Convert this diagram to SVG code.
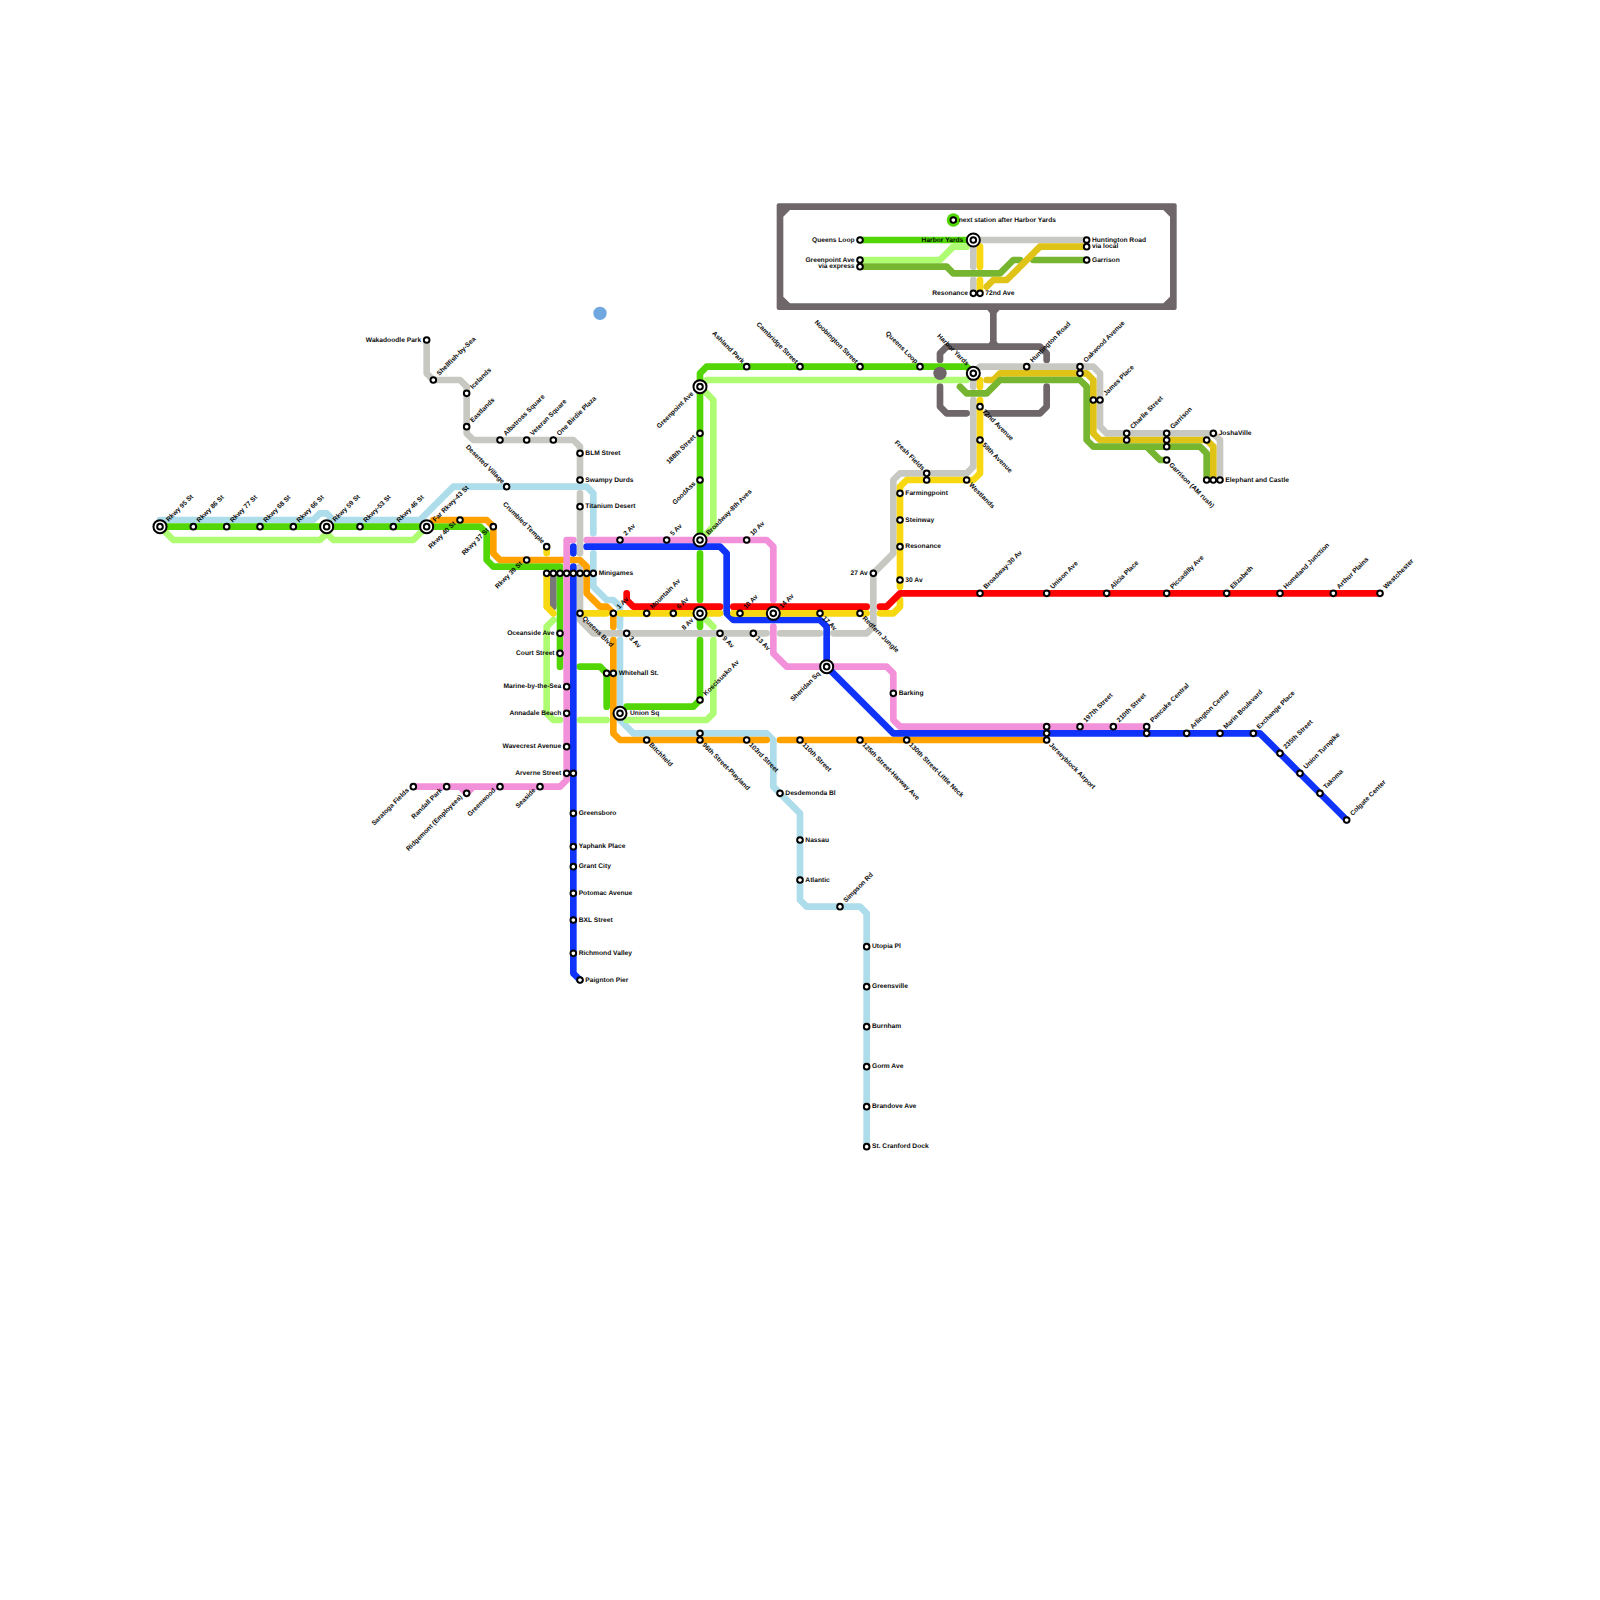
<svg xmlns="http://www.w3.org/2000/svg" width="1600" height="1600" viewBox="0 0 1600 1600">
<style>
.l{fill:none;stroke-width:1;stroke-linecap:round;stroke-linejoin:round}
.lb{stroke:#addcea}.gr{stroke:#52d606}.lg{stroke:#aefc72}.or{stroke:#ffa200}.pk{stroke:#f291d9}.bl{stroke:#0f33f8}.rd{stroke:#fc0404}.ye{stroke:#f8d810}.dy{stroke:#dfc317}.ol{stroke:#76b52f}.gy{stroke:#c8c8c2}.dg{stroke:#6f6669}.mg{stroke:#787878}
text{font-family:"Liberation Sans",Arial,sans-serif;font-weight:700;font-size:1px;fill:#000;text-rendering:geometricPrecision;opacity:.95}
.e{text-anchor:end}
</style>
<defs>
<g id="st"><circle r=".42" fill="#fff" stroke="#000" stroke-width=".3"/></g>
<g id="ix"><circle r=".98" fill="#fff" stroke="#000" stroke-width=".3"/><circle r=".42" fill="#fff" stroke="#000" stroke-width=".3"/></g>
</defs>
<g transform="scale(6.66667)">
<g id="legend-frame">
<rect x="116.5" y="30.5" width="60" height="16" rx=".3" fill="#6f6669"/>
<polygon points="118.5,31.5 174.5,31.5 175.5,32.5 175.5,44.5 174.5,45.5 118.5,45.5 117.5,44.5 117.5,32.5" fill="#fff"/>
<polygon points="148,46.4 150,46.4 149.5,47 148.5,47" fill="#6f6669"/>
<polygon points="148,52 150,52 149.5,51.2 148.5,51.2" fill="#6f6669"/>
<path class="l dg" d="M149 46.5V51M141 54V53L142 52H156L157 53V54M141 58V61L142 62H145M148 62H156L157 61V58"/>
<circle cx="143" cy="33" r="1" fill="#52d606"/>
<circle cx="90" cy="47" r="1" fill="#6fa8e0"/>
</g>
<g id="connectors">
<path class="l lb" d="M24 78H47L48 77H49L50 78H63L68 73H88L89 74V80M89 83V88L91 90H92L93 91V94M93 96V108L95 110H115L116 111V118L120 122V135L121 136H129L130 137V172"/>
<path class="l lg" d="M24 79L26 81H48L49 80L50 81H62L64 79M83 93L82 94V107L83 108H84M87 108H91M94 108H106L107 107V96M105 92L107 94M105 58L106 57H145L146 56M105 58L107 60V79L105 81"/>
<path class="l gy" d="M64 51V56L65 57H69L70 58V65L71 66H86L87 67V72M87 74V83M87 85V93L89 95H115M117 95H123M125 95H130L131 94V86L134 83V72L135 71H145L146 70V60M146 57V58M146 56L147 55H164L165 56V64L166 65H182L183 66V72"/>
<path class="l mg" d="M83 86V91"/>
<path class="l gr" d="M24 79H72L73 80V84L74 85H84V100M87 100H90L91 101V106M94 106H104L105 105V96M105 92V94M105 83V90M105 81V56L106 55H145L146 56"/>
<path class="l or" d="M65 78H73L74 79V83L75 84H87L88 85V89L90 91H91L92 92V94M92 96V110L93 111H115M117 111H157"/>
<path class="l pk" d="M86 81H85V117L84 118H62M69 118L70 119L71 118M88 81H115L116 82V90M116 94V98L118 100H133L134 101V108L135 109H172"/>
<path class="l bl" d="M86 82V83M86 85V146L87 147M88 82H108L109 83V92L110 93H123L124 94V100L134 110H189L202 123"/>
<path class="l ye" d="M82 82V83M82 86V91L83 92M87 92H91M93 92H108M110 92H130M132 92H134L135 91V90M135 88V73L136 72H146L147 71V60M147 57V58"/>
<path class="l rd" d="M94 89V90L95 91H108M110 91H130M132 91H133L135 89H207"/>
<path class="l dy" d="M148 57H149L150 56H163L164 57V65L165 66H181L182 67V72"/>
<path class="l ol" d="M144 58L145 59H148L150 57H162L163 58V66L164 67H180L181 68V72M172 67L174 69H175"/>
<path class="l gr" d="M129 36H146"/>
<path class="l lg" d="M129 39H141L143 37H145"/>
<path class="l ol" d="M129 40H142L143 41H150L152 39H153M155 39H163"/>
<path class="l gy" d="M146 36H163M146 36V40M146 42V44"/>
<path class="l ye" d="M147 37V40M147 42V44"/>
<path class="l dy" d="M163 37H156L151 42H149L148 43"/>
</g>
<circle id="frame-dot" cx="141" cy="56" r="1" fill="#6f6669"/>
<g id="n-rkwy95"><use href="#ix" x="24" y="79"/><text transform="translate(25.3 78.3) rotate(-45)">Rkwy 95 St</text></g>
<g id="n-rkwy86"><use href="#st" x="29" y="79"/><text transform="translate(29.9 78.4) rotate(-45)">Rkwy 86 St</text></g>
<g id="n-rkwy77"><use href="#st" x="34" y="79"/><text transform="translate(34.9 78.4) rotate(-45)">Rkwy 77 St</text></g>
<g id="n-rkwy68"><use href="#st" x="39" y="79"/><text transform="translate(39.9 78.4) rotate(-45)">Rkwy 68 St</text></g>
<g id="n-rkwy66"><use href="#st" x="44" y="79"/><text transform="translate(44.9 78.4) rotate(-45)">Rkwy 66 St</text></g>
<g id="n-rkwy59"><use href="#ix" x="49" y="79"/><text transform="translate(50.3 78.3) rotate(-45)">Rkwy 59 St</text></g>
<g id="n-rkwy53"><use href="#st" x="54" y="79"/><text transform="translate(54.9 78.4) rotate(-45)">Rkwy-53 St</text></g>
<g id="n-rkwy46"><use href="#st" x="59" y="79"/><text transform="translate(59.9 78.4) rotate(-45)">Rkwy 46 St</text></g>
<g id="n-far43"><use href="#ix" x="64" y="79"/><text transform="translate(65.3 78.3) rotate(-45)">Far Rkwy-43 St</text></g>
<g id="n-rkwy40"><use href="#st" x="69" y="78"/><text class="e" transform="translate(68.4 78.6) rotate(-45)">Rkwy 40 St</text></g>
<g id="n-rkwy37"><use href="#st" x="74" y="79"/><text class="e" transform="translate(73.4 79.6) rotate(-45)">Rkwy 37 St</text></g>
<g id="n-rkwy39"><use href="#st" x="79" y="84"/><text class="e" transform="translate(78.4 84.6) rotate(-45)">Rkwy 39 St</text></g>
<g id="n-wakadoodle"><use href="#st" x="64" y="51"/><text class="e" x="63.2" y="51.28">Wakadoodle Park</text></g>
<g id="n-shellfish"><use href="#st" x="65" y="57"/><text transform="translate(65.9 56.4) rotate(-45)">Shellfish-by-Sea</text></g>
<g id="n-icelands"><use href="#st" x="70" y="59"/><text transform="translate(70.9 58.4) rotate(-45)">Icelands</text></g>
<g id="n-eastlands"><use href="#st" x="70" y="64"/><text transform="translate(70.9 63.4) rotate(-45)">Eastlands</text></g>
<g id="n-albatross"><use href="#st" x="75" y="66"/><text transform="translate(75.9 65.4) rotate(-45)">Albatross Square</text></g>
<g id="n-veteran"><use href="#st" x="79" y="66"/><text transform="translate(79.9 65.4) rotate(-45)">Veteran Square</text></g>
<g id="n-birdie"><use href="#st" x="83" y="66"/><text transform="translate(83.9 65.4) rotate(-45)">One Birdie Plaza</text></g>
<g id="n-blm"><use href="#st" x="87" y="68"/><text x="87.8" y="68.28">BLM Street</text></g>
<g id="n-swampy"><use href="#st" x="87" y="72"/><text x="87.8" y="72.28">Swampy Durds</text></g>
<g id="n-titanium"><use href="#st" x="87" y="76"/><text x="87.8" y="76.28">Titanium Desert</text></g>
<g id="n-deserted"><use href="#st" x="76" y="73"/><text class="e" transform="translate(75.3 72.6) rotate(45)">Deserted Village</text></g>
<g id="n-crumbled"><use href="#st" x="82" y="82"/><text class="e" transform="translate(81.3 81.6) rotate(45)">Crumbled Temple</text></g>
<g id="n-r1"><use href="#st" x="82" y="86"/></g>
<g id="n-r2"><use href="#st" x="83" y="86"/></g>
<g id="n-r3"><use href="#st" x="84" y="86"/></g>
<g id="n-r4"><use href="#st" x="85" y="86"/></g>
<g id="n-r5"><use href="#st" x="86" y="86"/></g>
<g id="n-r6"><use href="#st" x="87" y="86"/></g>
<g id="n-r7"><use href="#st" x="88" y="86"/></g>
<g id="n-minigames"><use href="#st" x="89" y="86"/><text x="89.8" y="86.28">Minigames</text></g>
<g id="n-queensblvd"><use href="#st" x="87" y="92"/><text transform="translate(87.3 92.8) rotate(45)">Queens Blvd</text></g>
<g id="n-1av"><use href="#st" x="92" y="92"/><text transform="translate(92.9 91.4) rotate(-45)">1 Av</text></g>
<g id="n-mountain"><use href="#st" x="97" y="92"/><text transform="translate(97.9 91.4) rotate(-45)">Mountain Av</text></g>
<g id="n-6av"><use href="#st" x="101" y="92"/><text transform="translate(101.9 91.4) rotate(-45)">6 Av</text></g>
<g id="n-3av"><use href="#st" x="94" y="95"/><text transform="translate(94.3 95.8) rotate(45)">3 Av</text></g>
<g id="n-2av"><use href="#st" x="93" y="81"/><text transform="translate(93.9 80.4) rotate(-45)">2 Av</text></g>
<g id="n-5av"><use href="#st" x="100" y="81"/><text transform="translate(100.9 80.4) rotate(-45)">5 Av</text></g>
<g id="n-10avb"><use href="#st" x="112" y="81"/><text transform="translate(112.9 80.4) rotate(-45)">10 Av</text></g>
<g id="n-broadway8"><use href="#ix" x="105" y="81"/><text transform="translate(106.3 80.3) rotate(-45)">Broadway-8th Aves</text></g>
<g id="n-8av"><use href="#ix" x="105" y="92"/><text class="e" transform="translate(104.1 93.1) rotate(-45)">8 Av</text></g>
<g id="n-10av"><use href="#st" x="111" y="92"/><text transform="translate(111.9 91.4) rotate(-45)">10 Av</text></g>
<g id="n-14av"><use href="#ix" x="116" y="92"/><text transform="translate(117.3 91.3) rotate(-45)">14 Av</text></g>
<g id="n-17av"><use href="#st" x="123" y="92"/><text transform="translate(123.3 92.8) rotate(45)">17 Av</text></g>
<g id="n-9av"><use href="#st" x="108" y="95"/><text transform="translate(108.3 95.8) rotate(45)">9 Av</text></g>
<g id="n-13av"><use href="#st" x="113" y="95"/><text transform="translate(113.3 95.8) rotate(45)">13 Av</text></g>
<g id="n-redfern"><use href="#st" x="129" y="92"/><text transform="translate(129.3 92.8) rotate(45)">Redfern Jungle</text></g>
<g id="n-27av"><use href="#st" x="131" y="86"/><text class="e" x="130.2" y="86.28">27 Av</text></g>
<g id="n-sheridan"><use href="#ix" x="124" y="100"/><text class="e" transform="translate(123.1 101.1) rotate(-45)">Sheridan Sq</text></g>
<g id="n-koscisusko"><use href="#st" x="105" y="105"/><text transform="translate(105.9 104.4) rotate(-45)">Koscisusko Av</text></g>
<g id="n-whitehall-a"><use href="#st" x="91" y="101"/></g>
<g id="n-whitehall"><use href="#st" x="92" y="101"/><text x="92.8" y="101.28">Whitehall St.</text></g>
<g id="n-unionsq"><use href="#ix" x="93" y="107"/><text x="94.5" y="107.28">Union Sq</text></g>
<g id="n-oceanside"><use href="#st" x="84" y="95"/><text class="e" x="83.2" y="95.28">Oceanside Ave</text></g>
<g id="n-court"><use href="#st" x="84" y="98"/><text class="e" x="83.2" y="98.28">Court Street</text></g>
<g id="n-marine"><use href="#st" x="85" y="103"/><text class="e" x="84.2" y="103.28">Marine-by-the-Sea</text></g>
<g id="n-annadale"><use href="#st" x="85" y="107"/><text class="e" x="84.2" y="107.28">Annadale Beach</text></g>
<g id="n-wavecrest"><use href="#st" x="85" y="112"/><text class="e" x="84.2" y="112.28">Wavecrest Avenue</text></g>
<g id="n-arverne"><use href="#st" x="85" y="116"/><text class="e" x="84.2" y="116.28">Arverne Street</text></g>
<g id="n-arverne-b"><use href="#st" x="86" y="116"/></g>
<g id="n-saratoga"><use href="#st" x="62" y="118"/><text class="e" transform="translate(61.4 118.6) rotate(-45)">Saratoga Fields</text></g>
<g id="n-randall"><use href="#st" x="67" y="118"/><text class="e" transform="translate(66.4 118.6) rotate(-45)">Randall Park</text></g>
<g id="n-ridgemont"><use href="#st" x="70" y="119"/><text class="e" transform="translate(69.4 119.6) rotate(-45)">Ridgemont (Employees)</text></g>
<g id="n-greenwood"><use href="#st" x="75" y="118"/><text class="e" transform="translate(74.4 118.6) rotate(-45)">Greenwood</text></g>
<g id="n-seaside"><use href="#st" x="81" y="118"/><text class="e" transform="translate(80.4 118.6) rotate(-45)">Seaside</text></g>
<g id="n-greensboro"><use href="#st" x="86" y="122"/><text x="86.8" y="122.28">Greensboro</text></g>
<g id="n-yaphank"><use href="#st" x="86" y="127"/><text x="86.8" y="127.28">Yaphank Place</text></g>
<g id="n-grant"><use href="#st" x="86" y="130"/><text x="86.8" y="130.28">Grant City</text></g>
<g id="n-potomac"><use href="#st" x="86" y="134"/><text x="86.8" y="134.28">Potomac Avenue</text></g>
<g id="n-bxl"><use href="#st" x="86" y="138"/><text x="86.8" y="138.28">BXL Street</text></g>
<g id="n-richmond"><use href="#st" x="86" y="143"/><text x="86.8" y="143.28">Richmond Valley</text></g>
<g id="n-paignton"><use href="#st" x="87" y="147"/><text x="87.8" y="147.28">Paignton Pier</text></g>
<g id="n-bitchfield"><use href="#st" x="97" y="111"/><text transform="translate(97.3 111.8) rotate(45)">Bitchfield</text></g>
<g id="n-96a"><use href="#st" x="105" y="110"/></g>
<g id="n-96"><use href="#st" x="105" y="111"/><text transform="translate(105.3 111.8) rotate(45)">96th Street-Playland</text></g>
<g id="n-103"><use href="#st" x="112" y="111"/><text transform="translate(112.3 111.8) rotate(45)">103rd Street</text></g>
<g id="n-110"><use href="#st" x="120" y="111"/><text transform="translate(120.3 111.8) rotate(45)">110th Street</text></g>
<g id="n-125"><use href="#st" x="129" y="111"/><text transform="translate(129.3 111.8) rotate(45)">125th Street-Harway Ave</text></g>
<g id="n-130"><use href="#st" x="136" y="111"/><text transform="translate(136.3 111.8) rotate(45)">130th Street-Little Neck</text></g>
<g id="n-desdemonda"><use href="#st" x="117" y="119"/><text x="117.8" y="119.28">Desdemonda Bl</text></g>
<g id="n-nassau"><use href="#st" x="120" y="126"/><text x="120.8" y="126.28">Nassau</text></g>
<g id="n-atlantic"><use href="#st" x="120" y="132"/><text x="120.8" y="132.28">Atlantic</text></g>
<g id="n-simpson"><use href="#st" x="126" y="136"/><text transform="translate(126.9 135.4) rotate(-45)">Simpson Rd</text></g>
<g id="n-utopia"><use href="#st" x="130" y="142"/><text x="130.8" y="142.28">Utopia Pl</text></g>
<g id="n-greensville"><use href="#st" x="130" y="148"/><text x="130.8" y="148.28">Greensville</text></g>
<g id="n-burnham"><use href="#st" x="130" y="154"/><text x="130.8" y="154.28">Burnham</text></g>
<g id="n-gorm"><use href="#st" x="130" y="160"/><text x="130.8" y="160.28">Gorm Ave</text></g>
<g id="n-brandove"><use href="#st" x="130" y="166"/><text x="130.8" y="166.28">Brandove Ave</text></g>
<g id="n-cranford"><use href="#st" x="130" y="172"/><text x="130.8" y="172.28">St. Cranford Dock</text></g>
<g id="n-barking"><use href="#st" x="134" y="104"/><text x="134.8" y="104.28">Barking</text></g>
<g id="n-greenpoint"><use href="#ix" x="105" y="58"/><text class="e" transform="translate(104.1 59.1) rotate(-45)">Greenpoint Ave</text></g>
<g id="n-188"><use href="#st" x="105" y="65"/><text class="e" transform="translate(104.4 65.6) rotate(-45)">188th Street</text></g>
<g id="n-goodass"><use href="#st" x="105" y="72"/><text class="e" transform="translate(104.4 72.6) rotate(-45)">GoodAss</text></g>
<g id="n-ashland"><use href="#st" x="112" y="55"/><text class="e" transform="translate(111.3 54.6) rotate(45)">Ashland Park</text></g>
<g id="n-cambridge"><use href="#st" x="120" y="55"/><text class="e" transform="translate(119.3 54.6) rotate(45)">Cambridge Street</text></g>
<g id="n-noobington"><use href="#st" x="129" y="55"/><text class="e" transform="translate(128.3 54.6) rotate(45)">Noobington Street</text></g>
<g id="n-queensloop"><use href="#st" x="138" y="55"/><text class="e" transform="translate(137.3 54.6) rotate(45)">Queens Loop</text></g>
<g id="n-harbor"><use href="#ix" x="146" y="56"/><text class="e" transform="translate(144.95 54.9) rotate(45)">Harbor Yards</text></g>
<g id="n-72"><use href="#st" x="147" y="61"/><text transform="translate(147.3 61.8) rotate(45)">72nd Avenue</text></g>
<g id="n-59"><use href="#st" x="147" y="66"/><text transform="translate(147.3 66.8) rotate(45)">59th Avenue</text></g>
<g id="n-westlands"><use href="#st" x="145" y="72"/><text transform="translate(145.3 72.8) rotate(45)">Westlands</text></g>
<g id="n-fresh-a"><use href="#st" x="139" y="71"/><text class="e" transform="translate(138.3 70.6) rotate(45)">Fresh Fields</text></g>
<g id="n-fresh-b"><use href="#st" x="139" y="72"/></g>
<g id="n-farming"><use href="#st" x="135" y="74"/><text x="135.8" y="74.28">Farmingpoint</text></g>
<g id="n-steinway"><use href="#st" x="135" y="78"/><text x="135.8" y="78.28">Steinway</text></g>
<g id="n-resonance"><use href="#st" x="135" y="82"/><text x="135.8" y="82.28">Resonance</text></g>
<g id="n-30av"><use href="#st" x="135" y="87"/><text x="135.8" y="87.28">30 Av</text></g>
<g id="n-huntington"><use href="#st" x="154" y="55"/><text transform="translate(154.9 54.4) rotate(-45)">Huntington Road</text></g>
<g id="n-oakwood"><use href="#st" x="162" y="55"/><text transform="translate(162.9 54.4) rotate(-45)">Oakwood Avenue</text></g>
<g id="n-oakwood-b"><use href="#st" x="162" y="56"/></g>
<g id="n-james-a"><use href="#st" x="164" y="60"/></g>
<g id="n-james"><use href="#st" x="165" y="60"/><text transform="translate(165.9 59.4) rotate(-45)">James Place</text></g>
<g id="n-charlie"><use href="#st" x="169" y="65"/><text transform="translate(169.9 64.4) rotate(-45)">Charlie Street</text></g>
<g id="n-charlie-b"><use href="#st" x="169" y="66"/></g>
<g id="n-garrison"><use href="#st" x="175" y="65"/><text transform="translate(175.9 64.4) rotate(-45)">Garrison</text></g>
<g id="n-garrison-b"><use href="#st" x="175" y="66"/></g>
<g id="n-garrison-c"><use href="#st" x="175" y="67"/></g>
<g id="n-garrison-am"><use href="#st" x="175" y="69"/><text transform="translate(175.3 69.8) rotate(45)">Garrison (AM rush)</text></g>
<g id="n-joshaville"><use href="#st" x="182" y="65"/><text x="182.8" y="65.28">JoshaVille</text></g>
<g id="n-josha-b"><use href="#st" x="181" y="66"/></g>
<g id="n-ele-a"><use href="#st" x="181" y="72"/></g>
<g id="n-ele-b"><use href="#st" x="182" y="72"/></g>
<g id="n-elephant"><use href="#st" x="183" y="72"/><text x="183.8" y="72.28">Elephant and Castle</text></g>
<g id="n-b30"><use href="#st" x="147" y="89"/><text transform="translate(147.9 88.4) rotate(-45)">Broadway-30 Av</text></g>
<g id="n-unison"><use href="#st" x="157" y="89"/><text transform="translate(157.9 88.4) rotate(-45)">Unison Ave</text></g>
<g id="n-alicia"><use href="#st" x="166" y="89"/><text transform="translate(166.9 88.4) rotate(-45)">Alicia Place</text></g>
<g id="n-piccadilly"><use href="#st" x="175" y="89"/><text transform="translate(175.9 88.4) rotate(-45)">Piccadilly Ave</text></g>
<g id="n-elizabeth"><use href="#st" x="184" y="89"/><text transform="translate(184.9 88.4) rotate(-45)">Elizabeth</text></g>
<g id="n-homeland"><use href="#st" x="192" y="89"/><text transform="translate(192.9 88.4) rotate(-45)">Homeland Junction</text></g>
<g id="n-arthur"><use href="#st" x="200" y="89"/><text transform="translate(200.9 88.4) rotate(-45)">Arthur Plains</text></g>
<g id="n-westchester"><use href="#st" x="207" y="89"/><text transform="translate(207.9 88.4) rotate(-45)">Westchester</text></g>
<g id="n-j1"><use href="#st" x="157" y="109"/></g>
<g id="n-j2"><use href="#st" x="157" y="110"/></g>
<g id="n-jersey"><use href="#st" x="157" y="111"/><text transform="translate(157.3 111.8) rotate(45)">Jerseyblock Airport</text></g>
<g id="n-197"><use href="#st" x="162" y="109"/><text transform="translate(162.9 108.4) rotate(-45)">197th Street</text></g>
<g id="n-210"><use href="#st" x="167" y="109"/><text transform="translate(167.9 108.4) rotate(-45)">210th Street</text></g>
<g id="n-pancake"><use href="#st" x="172" y="109"/><text transform="translate(172.9 108.4) rotate(-45)">Pancake Central</text></g>
<g id="n-pancake-b"><use href="#st" x="172" y="110"/></g>
<g id="n-arlington"><use href="#st" x="178" y="110"/><text transform="translate(178.9 109.4) rotate(-45)">Arlington Center</text></g>
<g id="n-marin"><use href="#st" x="183" y="110"/><text transform="translate(183.9 109.4) rotate(-45)">Marin Boulevard</text></g>
<g id="n-exchange"><use href="#st" x="188" y="110"/><text transform="translate(188.9 109.4) rotate(-45)">Exchange Place</text></g>
<g id="n-235"><use href="#st" x="192" y="113"/><text transform="translate(192.9 112.4) rotate(-45)">235th Street</text></g>
<g id="n-unionturnpike"><use href="#st" x="195" y="116"/><text transform="translate(195.9 115.4) rotate(-45)">Union Turnpike</text></g>
<g id="n-takoma"><use href="#st" x="198" y="119"/><text transform="translate(198.9 118.4) rotate(-45)">Takoma</text></g>
<g id="n-colgate"><use href="#st" x="202" y="123"/><text transform="translate(202.9 122.4) rotate(-45)">Colgate Center</text></g>
<g id="legend-next"><use href="#st" x="143" y="33"/><text x="143.8" y="33.28">next station after Harbor Yards</text></g>
<g id="legend-queensloop"><use href="#st" x="129" y="36"/><text class="e" x="128.2" y="36.28">Queens Loop</text></g>
<g id="legend-greenpoint"><use href="#st" x="129" y="39"/><text class="e" x="128.2" y="39.28">Greenpoint Ave</text></g>
<g id="legend-express"><use href="#st" x="129" y="40"/><text class="e" x="128.2" y="40.28">via express</text></g>
<g id="legend-harbor"><use href="#ix" x="146" y="36"/><text class="e" x="144.5" y="36.28">Harbor Yards</text></g>
<g id="legend-huntington"><use href="#st" x="163" y="36"/><text x="163.8" y="36.28">Huntington Road</text></g>
<g id="legend-local"><use href="#st" x="163" y="37"/><text x="163.8" y="37.28">via local</text></g>
<g id="legend-garrison"><use href="#st" x="163" y="39"/><text x="163.8" y="39.28">Garrison</text></g>
<g id="legend-resonance"><use href="#st" x="146" y="44"/><text class="e" x="145.2" y="44.28">Resonance</text></g>
<g id="legend-72"><use href="#st" x="147" y="44"/><text x="147.8" y="44.28">72nd Ave</text></g>
</g>
</svg>
